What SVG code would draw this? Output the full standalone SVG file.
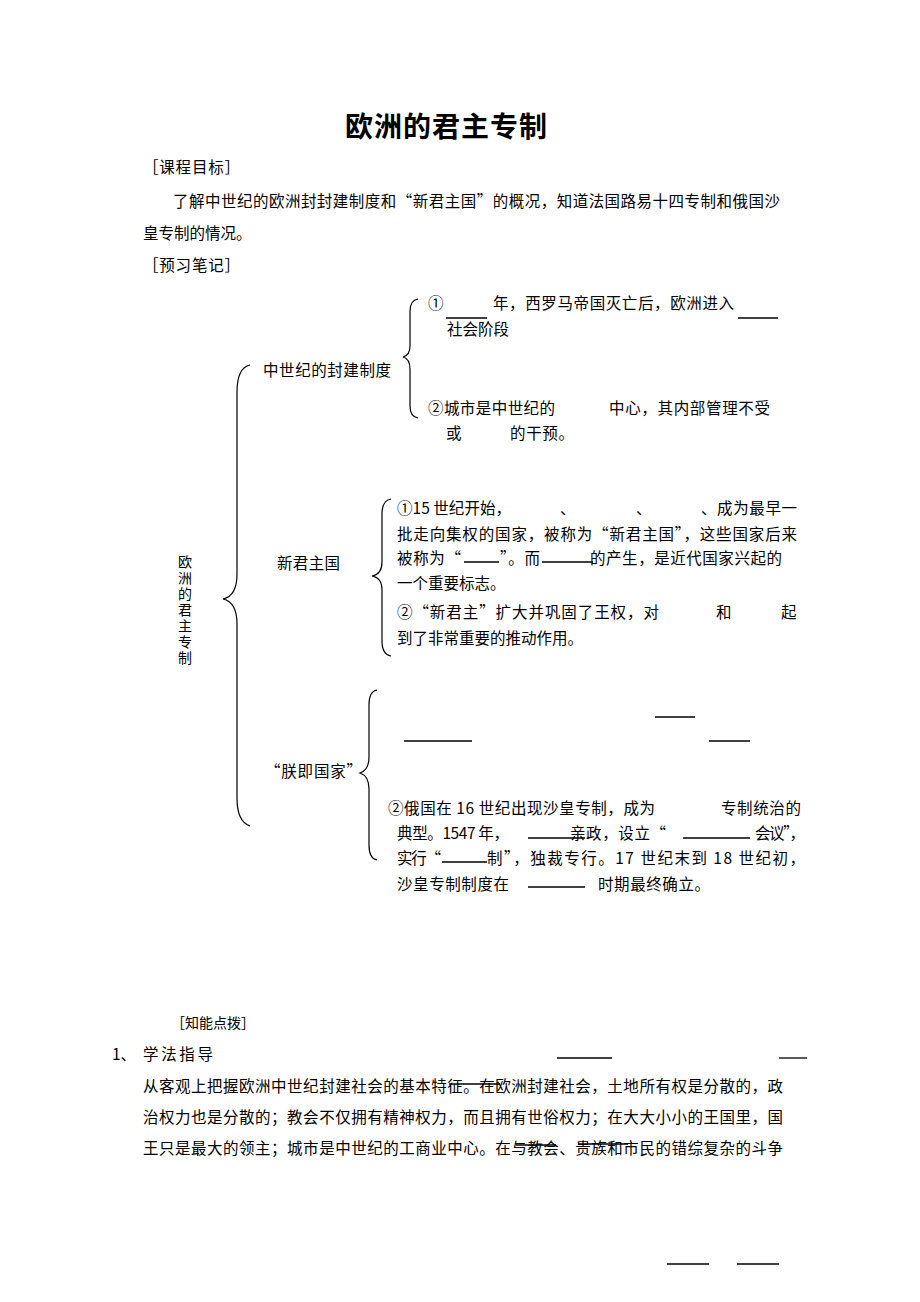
<svg xmlns="http://www.w3.org/2000/svg" width="920" height="1302" viewBox="0 0 920 1302">
<style>
text{font-family:"Noto Sans CJK SC","Noto Sans",sans-serif;font-size:15.5px;fill:#000}
.t{font-size:28px;font-weight:bold}
.v{font-size:14px;writing-mode:vertical-rl;letter-spacing:2px}
.s{font-size:14px}
.ul{stroke:#000;stroke-width:1.3;fill:none}
.br{stroke:#000;stroke-width:1.2;fill:none}
</style>
<rect width="920" height="1302" fill="#fff"/>
<g id="header">
<text class="t" x="345" y="137" textLength="202" lengthAdjust="spacing">欧洲的君主专制</text>
<text x="143" y="173" textLength="97" lengthAdjust="spacing">［课程目标］</text>
<text x="173" y="207" textLength="607" lengthAdjust="spacing">了解中世纪的欧洲封封建制度和“新君主国”的概况，知道法国路易十四专制和俄国沙</text>
<text x="143" y="239">皇专制的情况。</text>
<text x="143" y="271" textLength="97" lengthAdjust="spacing">［预习笔记］</text>
</g>
<g id="connectors">
<path class="br" d="M250,365 C241,367 237,377 237,392 L237,574 C237,590 232,597 223,599 C232,601 237,608 237,624 L237,798 C237,813 241,823 250,826"/>
<path class="br" d="M418,299 C412,300 410,304 410,311 L410,346 C410,353 407,356 403,357 C407,358 410,362 410,369 L410,406 C410,413 412,417 418,418"/>
<path class="br" d="M391,499 C385,500 382,505 382,514 L382,562 C382,570 378,575 372,576 C378,577 382,582 382,590 L382,641 C382,650 385,655 391,656"/>
<path class="br" d="M377,690 C371,691 369,696 369,705 L369,757 C369,766 366,771 360,773 C366,775 369,780 369,789 L369,845 C369,854 371,859 377,860"/>
</g>
<g id="root">
<text class="v" x="185" y="555">欧洲的君主专制</text>
</g>
<g id="node-feudal">
<text x="263" y="376" textLength="128" lengthAdjust="spacing">中世纪的封建制度</text>
</g>
<g id="feudal-items">
<text x="428" y="309">①</text>
<line class="ul" x1="446" y1="318" x2="487" y2="318"/>
<text x="493" y="309" textLength="241" lengthAdjust="spacing">年，西罗马帝国灭亡后，欧洲进入</text>
<line class="ul" x1="738" y1="318" x2="778" y2="318"/>
<text x="447" y="335">社会阶段</text>
<text x="428" y="414" textLength="127" lengthAdjust="spacing">②城市是中世纪的</text>
<text x="609" y="414" textLength="161" lengthAdjust="spacing">中心，其内部管理不受</text>
<text x="446" y="439">或</text>
<text x="510" y="439" textLength="64" lengthAdjust="spacing">的干预。</text>
</g>
<g id="node-newmonarchy">
<text x="277" y="569" textLength="63" lengthAdjust="spacing">新君主国</text>
</g>
<g id="newmonarchy-items">
<text x="397" y="514" textLength="114" lengthAdjust="spacing">①15 世纪开始，</text>
<text x="560" y="514">、</text>
<text x="636" y="514">、</text>
<text x="701" y="514" textLength="96" lengthAdjust="spacing">、成为最早一</text>
<text x="397" y="540" textLength="400" lengthAdjust="spacing">批走向集权的国家，被称为“新君主国”，这些国家后来</text>
<text x="397" y="564" textLength="64" lengthAdjust="spacing">被称为“</text>
<line class="ul" x1="464" y1="562" x2="499" y2="562"/>
<text x="500" y="564" textLength="40" lengthAdjust="spacing">”。而</text>
<line class="ul" x1="542" y1="562" x2="593" y2="562"/>
<text x="590" y="564" textLength="192" lengthAdjust="spacing">的产生，是近代国家兴起的</text>
<text x="397" y="589">一个重要标志。</text>
<text x="397" y="618" textLength="262" lengthAdjust="spacing">②“新君主”扩大并巩固了王权，对</text>
<text x="716" y="618">和</text>
<text x="781" y="618">起</text>
<text x="397" y="644">到了非常重要的推动作用。</text>
</g>
<g id="node-state">
<text x="265" y="777" textLength="97" lengthAdjust="spacing">“朕即国家”</text>
</g>
<g id="state-items">
<line class="ul" x1="655" y1="717" x2="695" y2="717"/>
<line class="ul" x1="404" y1="741" x2="472" y2="741"/>
<line class="ul" x1="709" y1="741" x2="750" y2="741"/>
<text x="388" y="814" textLength="267" lengthAdjust="spacing">②俄国在 16 世纪出现沙皇专制，成为</text>
<text x="721" y="814" textLength="80" lengthAdjust="spacing">专制统治的</text>
<text x="397" y="839" textLength="112" lengthAdjust="spacing">典型。1547 年，</text>
<line class="ul" x1="528" y1="838" x2="585" y2="838"/>
<text x="570" y="839" textLength="96" lengthAdjust="spacing">亲政，设立“</text>
<line class="ul" x1="683" y1="838" x2="750" y2="838"/>
<text x="755" y="839" textLength="50" lengthAdjust="spacing">会议”，</text>
<text x="397" y="864" textLength="44" lengthAdjust="spacing">实行“</text>
<line class="ul" x1="442" y1="862" x2="487" y2="862"/>
<text x="487" y="864" textLength="318" lengthAdjust="spacing">制”，独裁专行。17 世纪末到 18 世纪初，</text>
<text x="397" y="890" textLength="112" lengthAdjust="spacing">沙皇专制制度在</text>
<line class="ul" x1="528" y1="887" x2="585" y2="887"/>
<text x="598" y="890" textLength="112" lengthAdjust="spacing">时期最终确立。</text>
</g>
<g id="tips">
<text class="s" x="171" y="1028">［知能点拨］</text>
<text x="112" y="1060">1、</text>
<text x="143" y="1060" textLength="70" lengthAdjust="spacing">学法指导</text>
<line class="ul" x1="557" y1="1058" x2="612" y2="1058"/>
<line class="ul" x1="779" y1="1058" x2="807" y2="1058"/>
<text x="143" y="1092" textLength="640" lengthAdjust="spacing">从客观上把握欧洲中世纪封建社会的基本特征。在欧洲封建社会，土地所有权是分散的，政</text>
<line class="ul" x1="449" y1="1084" x2="500" y2="1084"/>
<text x="143" y="1123" textLength="640" lengthAdjust="spacing">治权力也是分散的；教会不仅拥有精神权力，而且拥有世俗权力；在大大小小的王国里，国</text>
<text x="143" y="1154" textLength="640" lengthAdjust="spacing">王只是最大的领主；城市是中世纪的工商业中心。在与教会、贵族和市民的错综复杂的斗争</text>
<line class="ul" x1="516" y1="1145" x2="556" y2="1145"/>
<line class="ul" x1="578" y1="1144" x2="628" y2="1144"/>
<line class="ul" x1="667" y1="1264" x2="709" y2="1264"/>
<line class="ul" x1="737" y1="1264" x2="779" y2="1264"/>
</g>
</svg>
